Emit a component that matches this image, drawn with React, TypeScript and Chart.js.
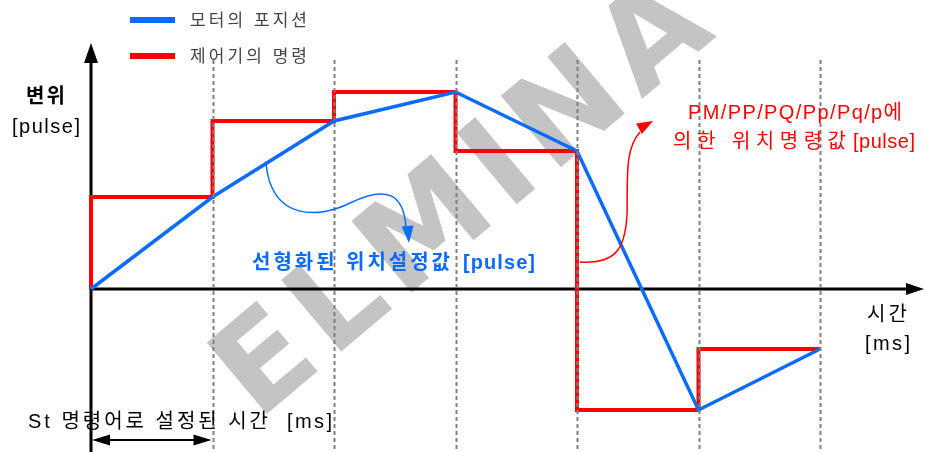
import React, { useEffect, useRef } from "react";
import { Chart, registerables } from "chart.js";

Chart.register(...registerables);

// ---- data ----
const timeSteps = [0, 1, 2, 3, 4, 5, 6];
const motorPosition = [0, 92, 168, 197, 138, -121, -60];
const commandTimes = [0, 0, 1, 2, 3, 4, 5, 6];
const commandValues = [0, 92, 168, 197, 138, -121, -60, -60];
const legendLabels = ["모터의 포지션", "제어기의 명령"];
const yAxisTitle = ["변위", "[pulse]"];
const xAxisTitle = ["시간", "[ms]"];
const blueNote = ["선형화된 위치설정값", "[pulse]"];
const redNote = ["PM/PP/PQ/Pp/Pq/p에", "의한 위치명령값", "[pulse]"];
const stNote = ["St 명령어로 설정된 시간", "[ms]"];
const watermark = "ELMINA";

const BLUE = "#0a6cff";
const RED = "#ff0000";
const FONT = '"Liberation Sans", "Noto Sans CJK KR", sans-serif';

function drawFit(
  ctx: CanvasRenderingContext2D,
  text: string,
  left: number,
  right: number,
  cy: number,
  font: string,
  color: string
) {
  ctx.save();
  ctx.font = font;
  (ctx as any).letterSpacing = "0px";
  const w = ctx.measureText(text).width;
  const n = Array.from(text).length;
  const ls = n > 1 ? (right - left - w) / (n - 1) : 0;
  (ctx as any).letterSpacing = ls + "px";
  ctx.fillStyle = color;
  ctx.textAlign = "left";
  ctx.textBaseline = "middle";
  ctx.fillText(text, left, cy);
  ctx.restore();
}

function arrowHead(
  ctx: CanvasRenderingContext2D,
  tipX: number,
  tipY: number,
  angle: number,
  len: number,
  half: number,
  color: string
) {
  ctx.save();
  ctx.translate(tipX, tipY);
  ctx.rotate(angle);
  ctx.beginPath();
  ctx.moveTo(0, 0);
  ctx.lineTo(-len, -half);
  ctx.lineTo(-len, half);
  ctx.closePath();
  ctx.fillStyle = color;
  ctx.fill();
  ctx.restore();
}

const overlay = {
  id: "overlay",
  beforeDatasetsDraw(chart: any) {
    const ctx: CanvasRenderingContext2D = chart.ctx;
    const xs = chart.scales.x;
    const ys = chart.scales.y;
    const x0 = xs.getPixelForValue(0);
    const y0 = ys.getPixelForValue(0);
    const W = chart.width;
    const H = chart.height;

    // watermark
    ctx.save();
    ctx.translate(470, 200);
    ctx.rotate((-40 * Math.PI) / 180);
    ctx.font = 'bold 128px "DejaVu Sans", sans-serif';
    (ctx as any).letterSpacing = "10px";
    ctx.fillStyle = "#c4c4c4";
    ctx.textAlign = "center";
    ctx.textBaseline = "middle";
    ctx.fillText(watermark, 0, 0);
    ctx.restore();

    // axes
    ctx.save();
    ctx.strokeStyle = "#000";
    ctx.lineWidth = 3;
    ctx.beginPath();
    ctx.moveTo(x0, H);
    ctx.lineTo(x0, 60);
    ctx.moveTo(x0, y0);
    ctx.lineTo(W - 18, y0);
    ctx.stroke();
    ctx.restore();
    arrowHead(ctx, x0, 43, -Math.PI / 2, 20, 7, "#000");
    arrowHead(ctx, W - 2, y0, 0, 18, 6, "#000");
  },
  afterDatasetsDraw(chart: any) {
    const ctx: CanvasRenderingContext2D = chart.ctx;
    const xs = chart.scales.x;
    const H = chart.height;
    const x0 = xs.getPixelForValue(0);
    const x1 = xs.getPixelForValue(1);

    // dotted time markers
    ctx.save();
    ctx.strokeStyle = "#808080";
    ctx.lineWidth = 2;
    ctx.setLineDash([4, 3]);
    for (const t of timeSteps.slice(1)) {
      const px = Math.round(xs.getPixelForValue(t)) + 0.5;
      ctx.beginPath();
      ctx.moveTo(px, 60);
      ctx.lineTo(px, H);
      ctx.stroke();
    }
    ctx.restore();

    // legend
    ctx.save();
    ctx.lineWidth = 6;
    ctx.strokeStyle = BLUE;
    ctx.beginPath();
    ctx.moveTo(130, 20);
    ctx.lineTo(175, 20);
    ctx.stroke();
    ctx.strokeStyle = RED;
    ctx.beginPath();
    ctx.moveTo(130, 56);
    ctx.lineTo(175, 56);
    ctx.stroke();
    ctx.restore();
    drawFit(ctx, legendLabels[0], 190, 307, 21, "17px " + FONT, "#444");
    drawFit(ctx, legendLabels[1], 190, 307, 57, "17px " + FONT, "#444");

    // axis titles
    drawFit(ctx, yAxisTitle[0], 26, 65, 97, "bold 20px " + FONT, "#000");
    drawFit(ctx, yAxisTitle[1], 12, 80, 127, "20px " + FONT, "#000");
    drawFit(ctx, xAxisTitle[0], 867, 907, 315, "20px " + FONT, "#000");
    drawFit(ctx, xAxisTitle[1], 865, 910, 344, "20px " + FONT, "#000");

    // notes
    drawFit(ctx, blueNote[0], 252, 450, 263, "bold 20px " + FONT, BLUE);
    drawFit(ctx, blueNote[1], 463, 535, 263, "bold 20px " + FONT, BLUE);
    drawFit(ctx, redNote[0], 688, 902, 113, "20px " + FONT, RED);
    drawFit(ctx, redNote[1], 673, 846, 142, "20px " + FONT, RED);
    drawFit(ctx, redNote[2], 853, 915, 142, "20px " + FONT, RED);
    drawFit(ctx, stNote[0], 28, 268, 422, "20px " + FONT, "#000");
    drawFit(ctx, stNote[1], 287, 332, 422, "20px " + FONT, "#000");

    // St double arrow
    ctx.save();
    ctx.strokeStyle = "#000";
    ctx.lineWidth = 2;
    ctx.beginPath();
    ctx.moveTo(x0 + 15, 440);
    ctx.lineTo(x1 - 15, 440);
    ctx.stroke();
    ctx.restore();
    arrowHead(ctx, x0 + 1, 440, Math.PI, 18, 5.5, "#000");
    arrowHead(ctx, x1 - 1, 440, 0, 18, 5.5, "#000");

    // blue curved arrow
    ctx.save();
    ctx.strokeStyle = BLUE;
    ctx.lineWidth = 1.5;
    ctx.beginPath();
    ctx.moveTo(266, 164);
    ctx.bezierCurveTo(272, 222, 320, 218, 350, 203);
    ctx.bezierCurveTo(385, 186, 404, 192, 406, 228);
    ctx.stroke();
    ctx.restore();
    arrowHead(ctx, 409, 243, Math.PI / 2 - 0.08, 17, 6, BLUE);

    // red curved arrow
    ctx.save();
    ctx.strokeStyle = RED;
    ctx.lineWidth = 1.5;
    ctx.beginPath();
    ctx.moveTo(580, 262);
    ctx.bezierCurveTo(615, 264, 625, 250, 627, 215);
    ctx.bezierCurveTo(628, 180, 624, 150, 640, 132);
    ctx.stroke();
    ctx.restore();
    arrowHead(ctx, 653, 121, -0.5, 16, 6, RED);
  },
};

export default function App() {
  const ref = useRef<HTMLCanvasElement>(null);
  useEffect(() => {
    if (!ref.current) return;
    const chart = new Chart(ref.current, {
      type: "line",
      data: {
        datasets: [
          {
            label: legendLabels[0],
            data: timeSteps.map((t, i) => ({ x: t, y: motorPosition[i] })),
            borderColor: BLUE,
            borderWidth: 3.5,
            pointRadius: 0,
            tension: 0,
            clip: false as any,
          },
          {
            label: legendLabels[1],
            data: commandTimes.map((t, i) => ({ x: t, y: commandValues[i] })),
            borderColor: RED,
            borderWidth: 4,
            pointRadius: 0,
            stepped: "before",
            clip: false as any,
          },
        ],
      },
      options: {
        animation: false,
        responsive: false,
        layout: { padding: { left: 91, right: 106, top: 0, bottom: 0 } },
        plugins: { legend: { display: false }, tooltip: { enabled: false } },
        scales: {
          x: { type: "linear", min: 0, max: 6, display: false },
          y: { type: "linear", min: -163, max: 289, display: false },
        },
      },
      plugins: [overlay],
    });
    return () => chart.destroy();
  }, []);
  return (
    <div style={{ position: "absolute", left: 0, top: 0, width: 926, height: 452, background: "#fff" }}>
      <canvas ref={ref} width={926} height={452} />
    </div>
  );
}
